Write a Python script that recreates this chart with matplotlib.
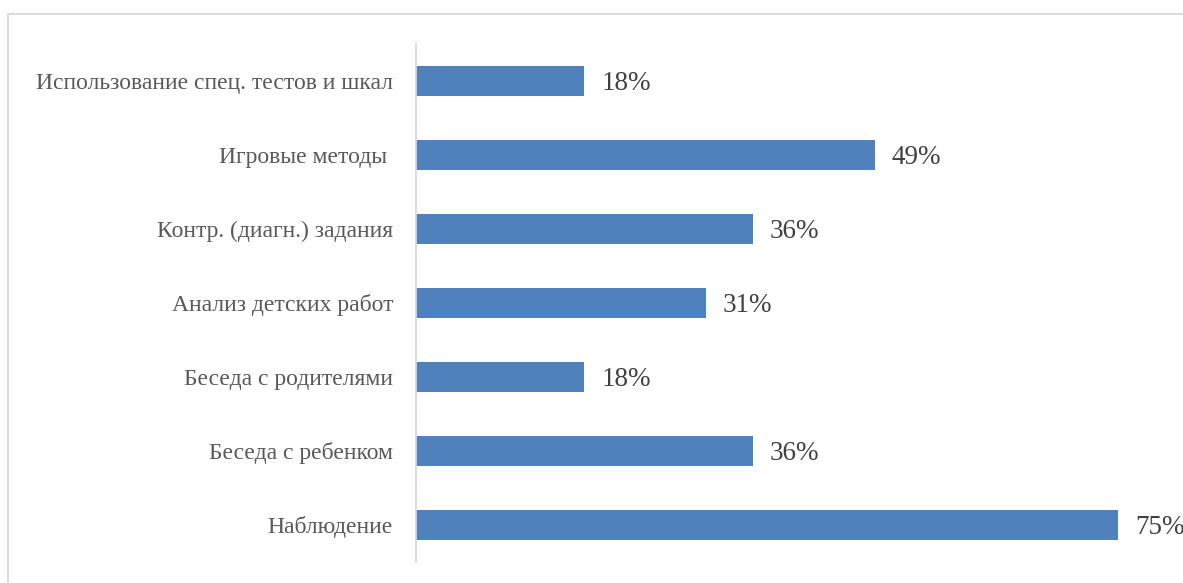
import matplotlib
matplotlib.use("Agg")
import matplotlib.pyplot as plt
from matplotlib.patches import Rectangle

categories = ["Наблюдение", "Беседа с ребенком", "Беседа с родителями",
              "Анализ детских работ", "Контр. (диагн.) задания",
              "Игровые методы ", "Использование спец. тестов и шкал"]
values = [75, 36, 18, 31, 36, 49, 18]
labels = ["75%", "36%", "18%", "31%", "36%", "49%", "18%"]

W, H = 1183, 583
fig = plt.figure(figsize=(W / 100, H / 100), dpi=100)
plt.rcParams['font.family'] = ['Liberation Serif', 'DejaVu Serif']

# outer chart border
fig.patches.append(Rectangle((8 / W, -0.1), 1.2, (H - 14) / H + 0.1, transform=fig.transFigure,
                             fill=False, edgecolor='#d9d9d9', linewidth=1.3))

x0, x1 = 416, 416 + 80 * 9.36
y0, y1 = 44, 562
ax = fig.add_axes([x0 / W, (H - y1) / H, (x1 - x0) / W, (y1 - y0) / H])
ax.barh(range(len(values)), values, height=0.4, color='#4f81bd')
ax.set_xlim(0, 80)
ax.set_ylim(-0.5, len(values) - 0.5)
ax.set_yticks(range(len(values)))
ax.set_yticklabels(categories, fontsize=17, color='#595959')
ax.tick_params(axis='y', length=0, pad=16.5)
ax.set_xticks([])
for s in ['top', 'right', 'bottom']:
    ax.spines[s].set_visible(False)
ax.spines['left'].set_color('#d9d9d9')
ax.spines['left'].set_linewidth(1.3)
for i, (v, l) in enumerate(zip(values, labels)):
    ax.text(v + 1.8, i - 0.03, l, va='center', ha='left', fontsize=19.5, color='#404040')
ax.patch.set_alpha(0)

fig.savefig("out.png", dpi=100)
